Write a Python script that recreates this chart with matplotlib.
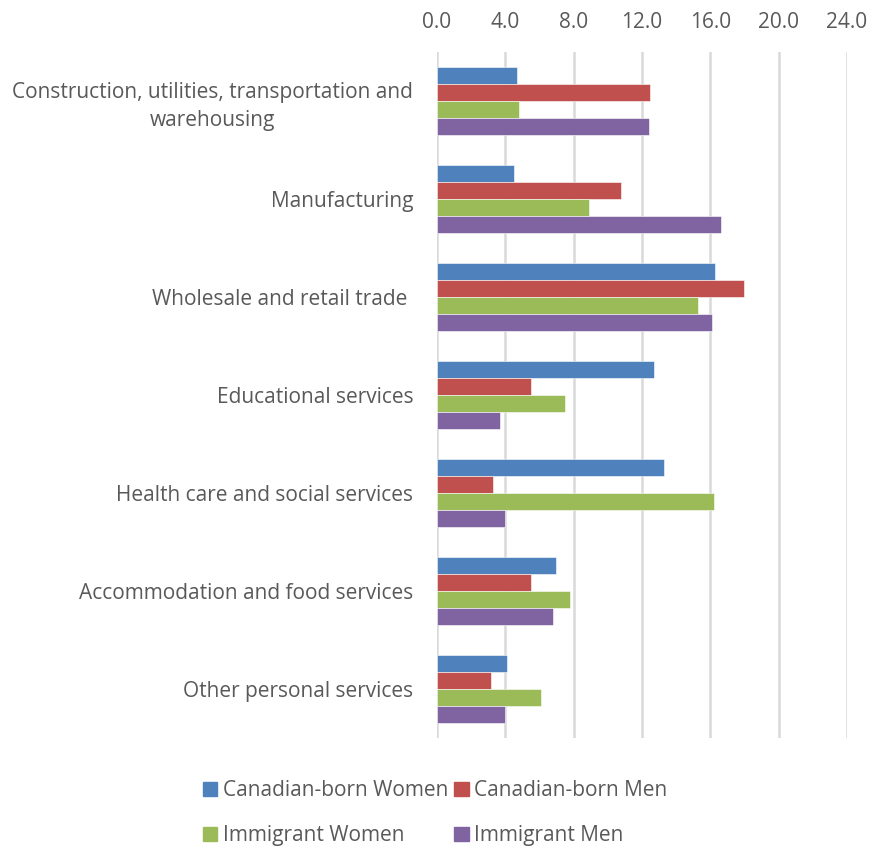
import numpy as np
import matplotlib.pyplot as plt
from matplotlib.patches import Patch

plt.rcParams['font.family'] = ['Open Sans', 'DejaVu Sans']

industries = ['Construction, utilities, transportation and\nwarehousing',
              'Manufacturing',
              'Wholesale and retail trade ',
              'Educational services',
              'Health care and social services',
              'Accommodation and food services',
              'Other personal services']

cdn_women = [4.7, 4.5, 16.3, 12.7, 13.3, 7.0, 4.1]
cdn_men = [12.5, 10.8, 18.0, 5.5, 3.3, 5.5, 3.2]
imm_women = [4.8, 8.9, 15.3, 7.5, 16.2, 7.8, 6.1]
imm_men = [12.4, 16.6, 16.1, 3.7, 4.0, 6.8, 4.0]

series = [('Canadian-born Women', cdn_women, '#4F81BD'),
          ('Canadian-born Men', cdn_men, '#C0504D'),
          ('Immigrant Women', imm_women, '#9BBB59'),
          ('Immigrant Men', imm_men, '#8064A2')]

txt = '#595959'
fs = 15
fig = plt.figure(figsize=(8.7, 8.48), dpi=100)
ax = fig.add_axes([0.502, 0.1297, 0.4716, 0.809])

y = np.arange(len(industries))
h = 0.171
for i, (name, vals, col) in enumerate(series):
    ax.barh(y + (i - 1.5) * h, vals, height=h, color=col,
            edgecolor='white', linewidth=0.4, zorder=3)

ax.set_xlim(0, 24)
ax.set_ylim(len(industries) - 0.5, -0.5)
ax.set_xticks(np.arange(0, 25, 4))
ax.set_xticklabels(['%.1f' % v for v in np.arange(0, 25, 4)])
ax.xaxis.tick_top()
ax.set_yticks(y)
ax.set_yticklabels(industries, multialignment='center', linespacing=1.4)
ax.tick_params(axis='x', length=0, pad=14, labelsize=fs, labelcolor=txt)
ax.tick_params(axis='y', length=0, pad=17, labelsize=fs, labelcolor=txt)

for s in ax.spines.values():
    s.set_visible(False)
ax.grid(axis='x', color='#d9d9d9', linewidth=1.8, zorder=0)
ax.set_axisbelow(True)

# legend filled row by row
order = [0, 2, 1, 3]
handles = [Patch(color=series[k][2]) for k in order]
labels = [series[k][0] for k in order]
fig.legend(handles, labels, ncol=2, loc='center', bbox_to_anchor=(0.5, 0.041),
           frameon=False, fontsize=fs, labelcolor=txt,
           handlelength=0.7, handleheight=0.7, handletextpad=0.25,
           columnspacing=0.3, labelspacing=1.15)

fig.savefig('out.png', dpi=100)
